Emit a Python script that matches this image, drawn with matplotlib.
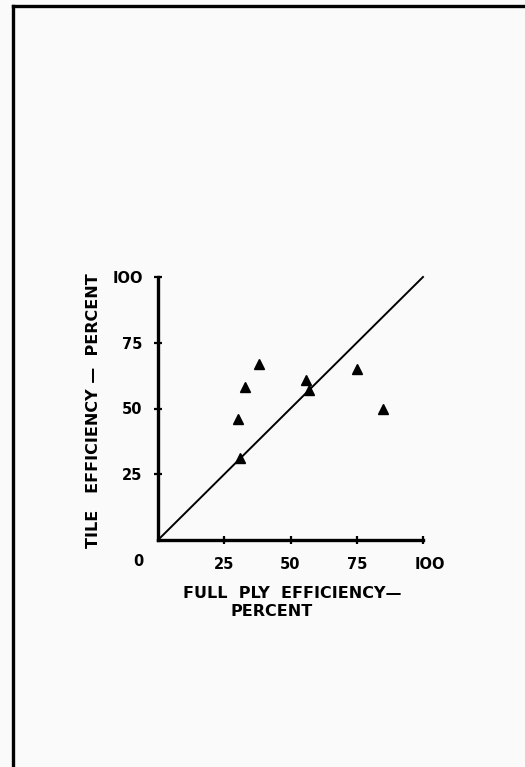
import matplotlib
matplotlib.use("Agg")
import matplotlib.pyplot as plt
from matplotlib.lines import Line2D

# Data
full_ply_eff = [30, 31, 33, 38, 56, 57, 75, 85]
tile_eff = [46, 31, 58, 67, 61, 57, 65, 50]
ref_line_x = [0, 100]
ref_line_y = [0, 100]
x_ticks = [25, 50, 75, 100]
x_tick_labels = ["25", "50", "75", "IOO"]
y_ticks = [25, 50, 75, 100]
y_tick_labels = ["25", "50", "75", "IOO"]

W, H = 525, 767
bg = "#fafafa"
fig = plt.figure(figsize=(W / 100, H / 100), dpi=100, facecolor=bg)

# page frame (left and top edges)
fig.add_artist(Line2D([13 / W, 13 / W], [0, 1 - 6 / H], color="black", lw=2.4, transform=fig.transFigure))
fig.add_artist(Line2D([13 / W, 1], [1 - 6 / H, 1 - 6 / H], color="black", lw=2.4, transform=fig.transFigure))

ax = fig.add_axes([158 / W, 1 - 540 / H, (423 - 158) / W, (540 - 277) / H])
ax.set_facecolor(bg)
ax.set_xlim(0, 100)
ax.set_ylim(0, 100)
for s in ["top", "right"]:
    ax.spines[s].set_visible(False)
for s in ["left", "bottom"]:
    ax.spines[s].set_linewidth(2.4)

ax.plot(ref_line_x, ref_line_y, color="black", lw=1.4, clip_on=False)
ax.plot(full_ply_eff, tile_eff, linestyle="none", marker="^", color="black", markersize=7.5, clip_on=False)

fp = dict(fontsize=10.5, fontweight="bold", family="DejaVu Sans")
ax.set_xticks(x_ticks)
ax.set_xticklabels(x_tick_labels, **fp)
ax.set_yticks(y_ticks)
ax.set_yticklabels(y_tick_labels, **fp)
ax.tick_params(axis="both", direction="inout", length=6, width=1.6, color="black")
ax.tick_params(axis="x", pad=9)
ax.tick_params(axis="y", pad=8)
ax.get_xticklabels()[-1].set_x(100)
for lbl in ax.get_xticklabels()[-1:]:
    lbl.set_transform(lbl.get_transform() + matplotlib.transforms.ScaledTranslation(7 / 100, 0, fig.dpi_scale_trans))
ax.annotate("0", xy=(0, 0), xytext=(-20, -22), textcoords="offset pixels",
            ha="center", va="center", **fp)

fig.text(292 / W, 1 - 593 / H, "FULL  PLY  EFFICIENCY\u2014", ha="center", va="center",
         fontsize=11.5, fontweight="bold")
fig.text(272 / W, 1 - 611 / H, "PERCENT", ha="center", va="center",
         fontsize=11.5, fontweight="bold")
fig.text(94 / W, 1 - 411 / H, "TILE   EFFICIENCY \u2014  PERCENT", ha="center", va="center",
         rotation=90, fontsize=11.5, fontweight="bold")

fig.savefig("out.png", dpi=100, facecolor=bg)
